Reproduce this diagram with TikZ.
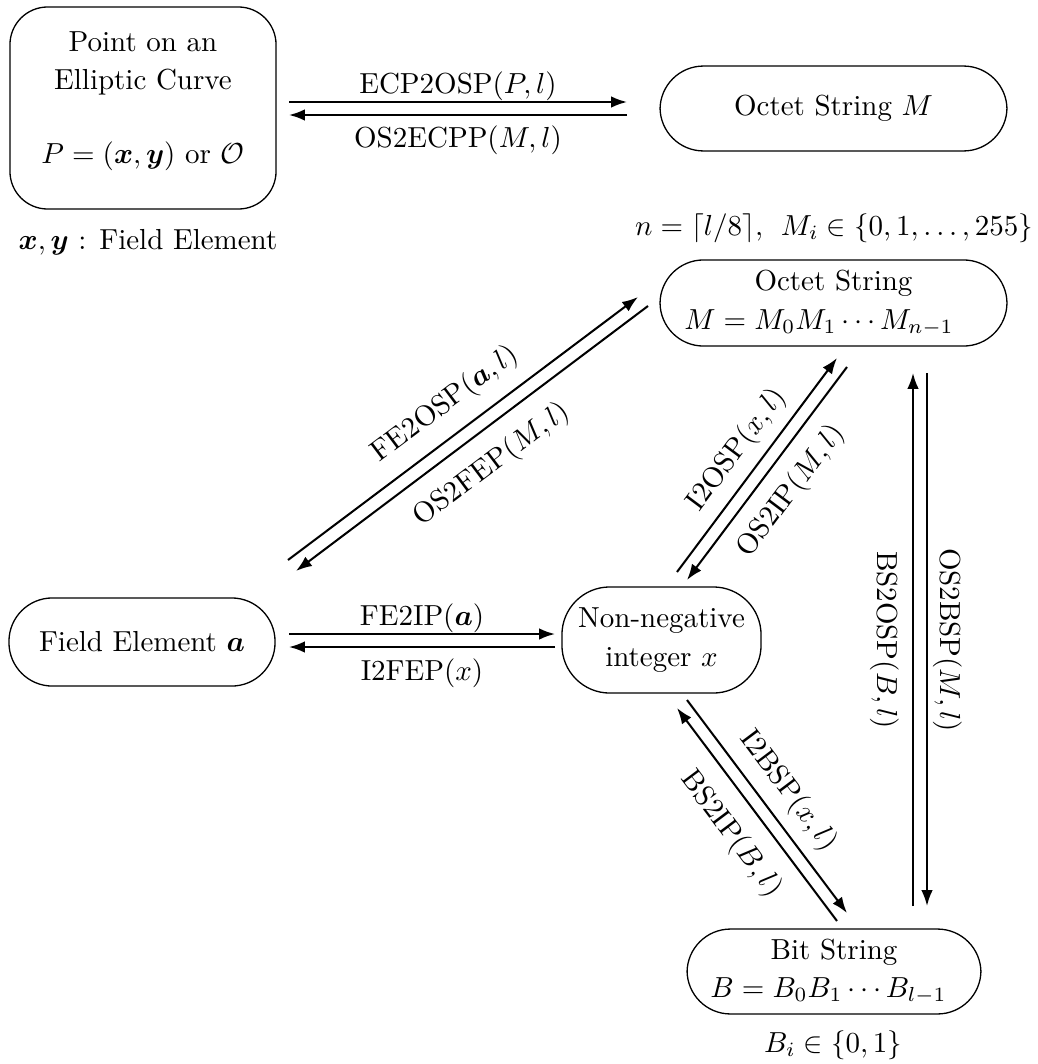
\documentclass[tikz,border=0pt]{standalone}
\usepackage{amsmath}
\usetikzlibrary{arrows.meta}
\begin{document}
\begin{tikzpicture}[x=0.345pt,y=-0.345pt,
  box/.style={draw, line width=0.45pt, rounded corners=15pt, align=center,
    inner sep=0pt, font=\fontsize{10}{13.3}\selectfont},
  conv/.style={line width=0.7pt, -{Latex[length=5.5pt,width=4pt]}},
  lab/.style={inner sep=0pt},
  note/.style={inner sep=0pt, anchor=base},
]
\useasboundingbox (0,0) rectangle (1037,1064);

% data representations
\node[box, rounded corners=13pt, minimum width=91.8pt, minimum height=69.7pt] (ec) at (143,108) {};
\node[align=center, inner sep=0pt, font=\fontsize{10}{13.1}\selectfont] (ectext) at (143,101)
  {Point on an\\Elliptic Curve\\[12.4pt]$P=(\boldsymbol{x},\boldsymbol{y})$ or $\mathcal{O}$};
\node[note] (fenote) at (148,249) {$\boldsymbol{x},\boldsymbol{y}$ : Field Element};

\node[box, minimum width=119.7pt, minimum height=29.3pt] (osm) at (833.5,108.5) {Octet String $M$};
\node[note] (osnote) at (834,235) {$n=\lceil l/8\rceil,\hspace{4.5pt} M_i\in\{0,1,\ldots,255\}$};
\node[box, minimum width=119.7pt, minimum height=29.7pt] (os) at (833.5,303)
  {Octet String\\$M=M_0M_1\cdots M_{n-1}$\hspace*{10pt}};

\node[box, minimum width=91.8pt, minimum height=30.4pt] (fe) at (142,642) {Field Element $\boldsymbol{a}$};
\node[box, rounded corners=16.5pt, minimum width=68.7pt, minimum height=36.6pt] (ni) at (661.5,640)
  {Non-negative\\integer $x$};

\node[box, minimum width=101.4pt, minimum height=29.3pt] (bs) at (834,971.5)
  {Bit String\\$B=B_0B_1\cdots B_{l-1}$\hspace*{3.8pt}};
\node[note] (bsnote) at (833,1052) {$B_i\in\{0,1\}$};

% end points of the conversion arrows
\coordinate (ecp1) at (289,102);  \coordinate (ecp2) at (627,102);
\coordinate (ecp3) at (627,115);  \coordinate (ecp4) at (289,115);
\coordinate (fei1) at (289,634);  \coordinate (fei2) at (555,634);
\coordinate (fei3) at (555,647);  \coordinate (fei4) at (289,647);
\coordinate (feo1) at (288,560);  \coordinate (feo2) at (638,297);
\coordinate (feo3) at (648,306);  \coordinate (feo4) at (296,571);
\coordinate (ios1) at (677,572);  \coordinate (ios2) at (837,358);
\coordinate (ios3) at (847,367);  \coordinate (ios4) at (687,580);
\coordinate (ibs1) at (687,700);  \coordinate (ibs2) at (847,913);
\coordinate (ibs3) at (837,921);  \coordinate (ibs4) at (677,708);
\coordinate (bso1) at (913,906);  \coordinate (bso2) at (913,373);
\coordinate (bso3) at (927,373);  \coordinate (bso4) at (927,906);

% conversion primitives
\draw[conv] (ecp1) -- node[lab, above=0pt] (tecp) {ECP2OSP$(P,l)$} (ecp2);
\draw[conv] (ecp3) -- node[lab, below=3.5pt] (tose) {OS2ECPP$(M,l)$} (ecp4);

\draw[conv] (fei1) -- node[lab, above=0pt] (tfei) {FE2IP$(\boldsymbol{a})$} (fei2);
\draw[conv] (fei3) -- node[lab, below=3.8pt] (tife) {I2FEP$(x)$} (fei4);

\draw[conv] (feo1) -- node[lab, sloped, above=5pt] (tfeo) {FE2OSP$(\boldsymbol{a},l)$} (feo2);
\draw[conv] (feo3) -- node[lab, sloped, below=6pt] (tofe) {OS2FEP$(M,l)$} (feo4);

\draw[conv] (ios1) -- node[lab, sloped, above=3.4pt] (tios) {I2OSP$(x,l)$} (ios2);
\draw[conv] (ios3) -- node[lab, sloped, below=5pt] (toip) {OS2IP$(M,l)$} (ios4);

\draw[conv] (ibs1) -- node[lab, sloped, above=3.7pt] (tibs) {I2BSP$(x,l)$} (ibs2);
\draw[conv] (ibs3) -- node[lab, sloped, below=6pt] (tbsi) {BS2IP$(B,l)$} (ibs4);

\draw[conv] (bso1) -- (bso2);
\draw[conv] (bso3) -- (bso4);
\node[lab, rotate=-90, anchor=base] (tbso) at (877,640) {BS2OSP$(B,l)$};
\node[lab, rotate=-90, anchor=base] (tobs) at (940,640) {OS2BSP$(M,l)$};
\end{tikzpicture}
\end{document}
